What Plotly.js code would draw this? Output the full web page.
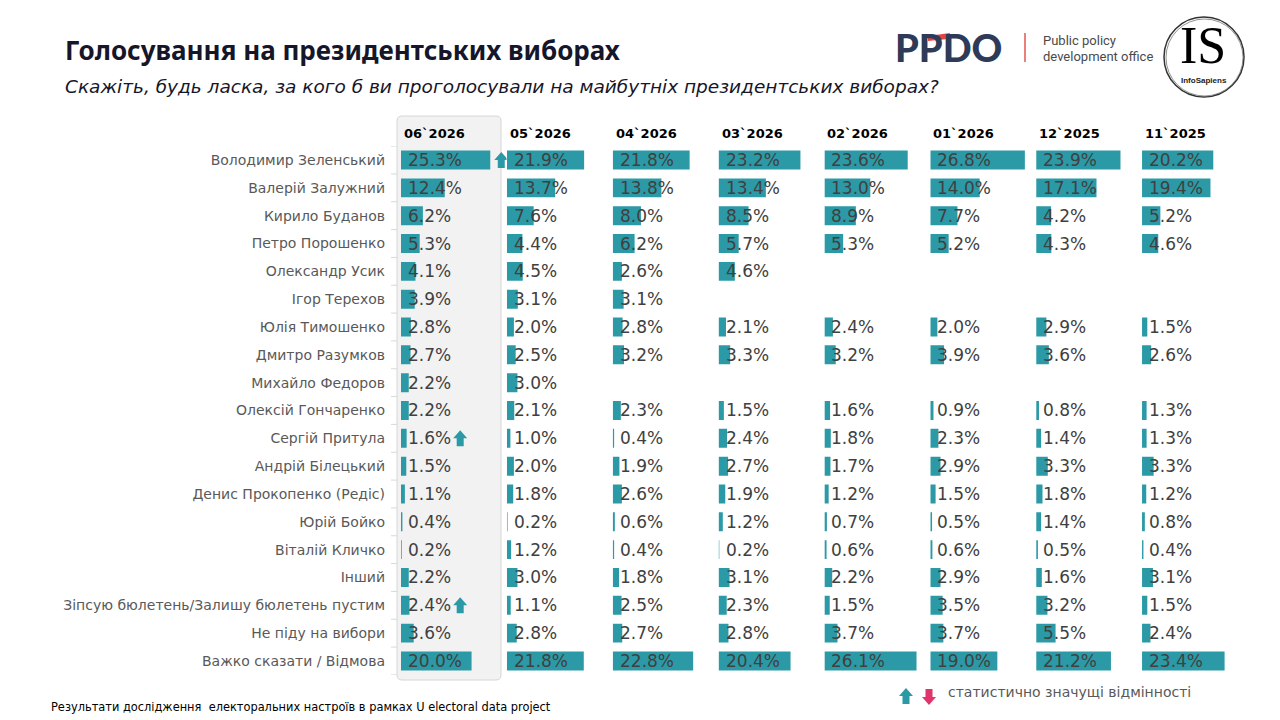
<!DOCTYPE html>
<html>
<head>
<meta charset="utf-8">
<script src="https://cdn.plot.ly/plotly-3.0.1.min.js"></script>
<style>
  html, body { margin: 0; padding: 0; background: #ffffff; }
  #chart { width: 1280px; height: 720px; }
</style>
</head>
<body>
<div id="chart"></div>
<script>
// Survey waves, newest first
const periods = ['06`2026', '05`2026', '04`2026', '03`2026', '02`2026', '01`2026', '12`2025', '11`2025'];

const candidates = [
  'Володимир Зеленський',
  'Валерій Залужний',
  'Кирило Буданов',
  'Петро Порошенко',
  'Олександр Усик',
  'Ігор Терехов',
  'Юлія Тимошенко',
  'Дмитро Разумков',
  'Михайло Федоров',
  'Олексій Гончаренко',
  'Сергій Притула',
  'Андрій Білецький',
  'Денис Прокопенко (Редіс)',
  'Юрій Бойко',
  'Віталій Кличко',
  'Інший',
  'Зіпсую бюлетень/Залишу бюлетень пустим',
  'Не піду на вибори',
  'Важко сказати / Відмова'
];

// Share of respondents, % (null = not asked in that wave)
const jun2026 = [25.3, 12.4, 6.2, 5.3, 4.1, 3.9, 2.8, 2.7, 2.2, 2.2, 1.6, 1.5, 1.1, 0.4, 0.2, 2.2, 2.4, 3.6, 20.0];
const may2026 = [21.9, 13.7, 7.6, 4.4, 4.5, 3.1, 2.0, 2.5, 3.0, 2.1, 1.0, 2.0, 1.8, 0.2, 1.2, 3.0, 1.1, 2.8, 21.8];
const apr2026 = [21.8, 13.8, 8.0, 6.2, 2.6, 3.1, 2.8, 3.2, null, 2.3, 0.4, 1.9, 2.6, 0.6, 0.4, 1.8, 2.5, 2.7, 22.8];
const mar2026 = [23.2, 13.4, 8.5, 5.7, 4.6, null, 2.1, 3.3, null, 1.5, 2.4, 2.7, 1.9, 1.2, 0.2, 3.1, 2.3, 2.8, 20.4];
const feb2026 = [23.6, 13.0, 8.9, 5.3, null, null, 2.4, 3.2, null, 1.6, 1.8, 1.7, 1.2, 0.7, 0.6, 2.2, 1.5, 3.7, 26.1];
const jan2026 = [26.8, 14.0, 7.7, 5.2, null, null, 2.0, 3.9, null, 0.9, 2.3, 2.9, 1.5, 0.5, 0.6, 2.9, 3.5, 3.7, 19.0];
const dec2025 = [23.9, 17.1, 4.2, 4.3, null, null, 2.9, 3.6, null, 0.8, 1.4, 3.3, 1.8, 1.4, 0.5, 1.6, 3.2, 5.5, 21.2];
const nov2025 = [20.2, 19.4, 5.2, 4.6, null, null, 1.5, 2.6, null, 1.3, 1.3, 3.3, 1.2, 0.8, 0.4, 3.1, 1.5, 2.4, 23.4];

const waves = [jun2026, may2026, apr2026, mar2026, feb2026, jan2026, dec2025, nov2025];

// Statistically significant changes in the latest wave
const signifWave = [0, 0, 0];
const signifRow = [0, 10, 16];
const signifDir = ['up', 'up', 'up'];

// ---- geometry helpers ----
const W = 1280, H = 720;
const px = v => v / W;
const py = v => 1 - v / H;

const TEAL = '#2b9aa6';
const PINK = '#e0356b';
const LABEL = '#404040';
const GREY = '#595959';

const panelLeft = 401, panelStep = 105.86, panelWidth = 105.5;
const xMax = 29.9;
const pxPerUnit = panelWidth / xMax;
const plotTop = 146.1, plotBottom = 674.9;

const axName = i => (i === 0 ? 'x' : 'x' + (i + 1));
const axKey = i => (i === 0 ? 'xaxis' : 'xaxis' + (i + 1));

const valueFont = { family: 'DejaVu Sans', size: 17, color: LABEL };

function textWidth(str, font) {
  const c = document.createElement('canvas').getContext('2d');
  c.font = font.size + 'px "' + font.family + '"';
  return c.measureText(str).width;
}

const fmt = v => v.toFixed(1) + '%';

// ---- traces ----
const traces = waves.map((vals, i) => ({
  type: 'bar',
  orientation: 'h',
  x: vals,
  y: candidates,
  xaxis: axName(i),
  yaxis: 'y',
  width: 0.68,
  marker: { color: TEAL, line: { width: 0 } },
  hoverinfo: 'skip',
  showlegend: false
}));

// ---- layout ----
const layout = {
  width: W,
  height: H,
  margin: { l: 0, r: 0, t: 0, b: 0 },
  paper_bgcolor: '#ffffff',
  plot_bgcolor: 'rgba(0,0,0,0)',
  barmode: 'overlay',
  showlegend: false,
  font: { family: 'DejaVu Sans', color: GREY },
  yaxis: {
    type: 'category',
    categoryorder: 'array',
    categoryarray: candidates,
    range: [candidates.length - 0.5, -0.5],
    domain: [py(plotBottom), py(plotTop)],
    anchor: 'x',
    showgrid: false,
    zeroline: false,
    showline: false,
    ticks: '',
    ticklabelstandoff: 15,
    tickfont: { family: 'DejaVu Sans', size: 14, color: GREY },
    fixedrange: true
  },
  annotations: [],
  shapes: []
};

periods.forEach((p, i) => {
  const x0 = panelLeft + i * panelStep;
  layout[axKey(i)] = {
    domain: [px(x0), px(x0 + panelWidth)],
    range: [0, xMax],
    anchor: 'y',
    visible: false,
    fixedrange: true
  };
  // column header
  layout.annotations.push({
    xref: axName(i), yref: 'paper',
    x: 0, y: py(133),
    xanchor: 'left', yanchor: 'middle',
    xshift: 1,
    text: p,
    showarrow: false,
    font: { family: 'DejaVu Sans', size: 13, weight: 'bold', color: '#000000' }
  });
  // value labels
  waves[i].forEach((v, j) => {
    if (v === null) return;
    layout.annotations.push({
      xref: axName(i), yref: 'y',
      x: 0, y: candidates[j],
      xanchor: 'left', yanchor: 'middle',
      xshift: 5,
      text: fmt(v),
      showarrow: false,
      font: valueFont
    });
  });
});

// highlighted latest wave
(function () {
  const l = 397, r = 501, t = 116, b = 680, rad = 5;
  const path =
    'M' + px(l + rad) + ',' + py(t) +
    ' L' + px(r - rad) + ',' + py(t) +
    ' Q' + px(r) + ',' + py(t) + ' ' + px(r) + ',' + py(t + rad) +
    ' L' + px(r) + ',' + py(b - rad) +
    ' Q' + px(r) + ',' + py(b) + ' ' + px(r - rad) + ',' + py(b) +
    ' L' + px(l + rad) + ',' + py(b) +
    ' Q' + px(l) + ',' + py(b) + ' ' + px(l) + ',' + py(b - rad) +
    ' L' + px(l) + ',' + py(t + rad) +
    ' Q' + px(l) + ',' + py(t) + ' ' + px(l + rad) + ',' + py(t) + ' Z';
  layout.shapes.push({
    type: 'path', xref: 'paper', yref: 'paper', path: path,
    fillcolor: '#f2f2f2', line: { color: '#d6d6d6', width: 1 }, layer: 'below'
  });
})();

// category boundary ticks on the left edge
for (let k = 0; k <= candidates.length; k++) {
  layout.shapes.push({
    type: 'line', xref: 'paper', yref: 'y',
    x0: px(391), x1: px(397), y0: k - 0.5, y1: k - 0.5,
    line: { color: '#d9d9d9', width: 1 }, layer: 'below'
  });
}

// arrow glyphs (pixel coordinates around an anchor)
const upArrow = 'M-7,0 L0,8 L7,0 L3.5,0 L3.5,-8 L-3.5,-8 L-3.5,0 Z';
const downArrow = 'M-7,0 L0,-8 L7,0 L3.5,0 L3.5,8 L-3.5,8 L-3.5,0 Z';
function shiftPath(path, dx) {
  return path.replace(/(-?\d+(?:\.\d+)?),(-?\d+(?:\.\d+)?)/g,
    (m, a, b) => (parseFloat(a) + dx) + ',' + b);
}

signifWave.forEach((w, k) => {
  const j = signifRow[k];
  const v = waves[w][j];
  const barPx = v * pxPerUnit;
  const txtPx = 5 + textWidth(fmt(v), valueFont);
  const off = Math.max(barPx, txtPx) + 11;
  layout.shapes.push({
    type: 'path',
    xref: axName(w), yref: 'y',
    xsizemode: 'pixel', ysizemode: 'pixel',
    xanchor: 0, yanchor: j,
    path: shiftPath(signifDir[k] === 'up' ? upArrow : downArrow, off),
    fillcolor: signifDir[k] === 'up' ? TEAL : PINK,
    line: { width: 0 }
  });
});

// legend for the arrows
layout.shapes.push({
  type: 'path', xref: 'paper', yref: 'paper',
  xsizemode: 'pixel', ysizemode: 'pixel',
  xanchor: px(906), yanchor: py(696),
  path: upArrow, fillcolor: TEAL, line: { width: 0 }
});
layout.shapes.push({
  type: 'path', xref: 'paper', yref: 'paper',
  xsizemode: 'pixel', ysizemode: 'pixel',
  xanchor: px(929), yanchor: py(697),
  path: downArrow, fillcolor: PINK, line: { width: 0 }
});
layout.annotations.push({
  xref: 'paper', yref: 'paper', x: px(946), y: py(692),
  xanchor: 'left', yanchor: 'middle', showarrow: false,
  text: 'статистично значущі відмінності',
  font: { family: 'DejaVu Sans', size: 14, color: GREY }
});

// titles
layout.annotations.push({
  xref: 'paper', yref: 'paper', x: px(63), y: py(50),
  xanchor: 'left', yanchor: 'middle', showarrow: false,
  text: 'Голосування на президентських виборах',
  font: { family: 'Noto Sans', size: 26, weight: 'bold', color: '#16162a' }
});
layout.annotations.push({
  xref: 'paper', yref: 'paper', x: px(63), y: py(86),
  xanchor: 'left', yanchor: 'middle', showarrow: false,
  text: 'Скажіть, будь ласка, за кого б ви проголосували на майбутніх президентських виборах?',
  font: { family: 'DejaVu Sans', size: 18.5, style: 'italic', color: '#16162a' }
});

// footnote
layout.annotations.push({
  xref: 'paper', yref: 'paper', x: px(49), y: py(707),
  xanchor: 'left', yanchor: 'middle', showarrow: false,
  text: 'Результати дослідження  електоральних настроїв в рамках U electoral data project',
  font: { family: 'DejaVu Sans', size: 11.4, color: '#000000' }
});

// PPDO mark
layout.annotations.push({
  xref: 'paper', yref: 'paper', x: px(893), y: py(47),
  xanchor: 'left', yanchor: 'middle', showarrow: false,
  text: 'PPDO',
  font: { family: 'Lato', size: 38, weight: 900, color: '#2e3b58' }
});
layout.shapes.push({
  type: 'path', xref: 'paper', yref: 'paper',
  path: 'M' + px(928) + ',' + py(36) + ' L' + px(950) + ',' + py(33) +
        ' L' + px(948) + ',' + py(39) + ' L' + px(928) + ',' + py(41) + ' Z',
  fillcolor: '#e4443f', line: { width: 0 }
});
layout.shapes.push({
  type: 'line', xref: 'paper', yref: 'paper',
  x0: px(1025), x1: px(1025), y0: py(33), y1: py(62),
  line: { color: '#e4554f', width: 1.5 }
});
layout.annotations.push({
  xref: 'paper', yref: 'paper', x: px(1041), y: py(40),
  xanchor: 'left', yanchor: 'middle', showarrow: false,
  text: 'Public policy',
  font: { family: 'Roboto', size: 13, color: '#4a4a4a' }
});
layout.annotations.push({
  xref: 'paper', yref: 'paper', x: px(1041), y: py(57),
  xanchor: 'left', yanchor: 'middle', showarrow: false,
  text: 'development office',
  font: { family: 'Roboto', size: 13, color: '#4a4a4a' }
});

// InfoSapiens mark
layout.shapes.push({
  type: 'circle', xref: 'paper', yref: 'paper',
  x0: px(1164), x1: px(1244), y0: py(97), y1: py(17),
  line: { color: '#333333', width: 1.5 }
});
layout.shapes.push({
  type: 'circle', xref: 'paper', yref: 'paper',
  x0: px(1166), x1: px(1243), y0: py(96), y1: py(19),
  line: { color: '#777777', width: 0.8 }
});
layout.annotations.push({
  xref: 'paper', yref: 'paper', x: px(1203), y: py(45),
  xanchor: 'center', yanchor: 'middle', showarrow: false,
  text: 'IS',
  font: { family: 'Liberation Serif', size: 52, color: '#000000' }
});
layout.annotations.push({
  xref: 'paper', yref: 'paper', x: px(1204), y: py(80),
  xanchor: 'center', yanchor: 'middle', showarrow: false,
  text: 'InfoSapiens',
  font: { family: 'Liberation Sans', size: 8, weight: 'bold', color: '#222222' }
});

Plotly.newPlot('chart', traces, layout, { staticPlot: true, displayModeBar: false });
</script>
</body>
</html>
